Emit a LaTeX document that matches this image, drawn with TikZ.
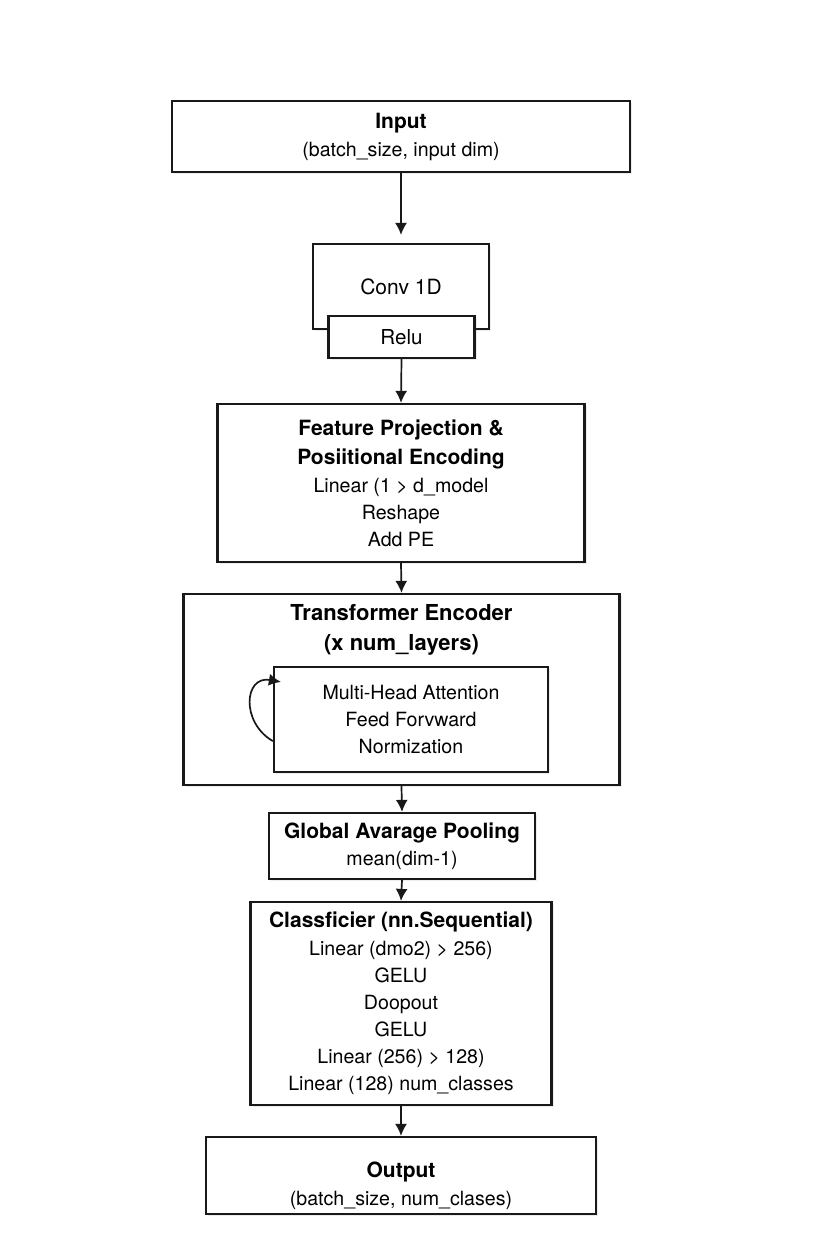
\documentclass[tikz,border=0pt]{standalone}
\usepackage{fontspec}
\setmainfont{TeX Gyre Heros}
\usetikzlibrary{arrows.meta,shadows}

\newcommand{\ttl}[1]{{\fontsize{10.5}{14}\selectfont\bfseries #1}}

\tikzset{
	box/.style={draw=black!90, line width=1.1pt, fill=white, align=center, inner sep=2pt,
		drop shadow={shadow xshift=1pt, shadow yshift=-1.2pt, opacity=0.15}},
	flow/.style={draw=black!90, line width=0.85pt, -{Latex[length=6pt,width=6pt]}},
}

\begin{document}
\begin{tikzpicture}[x=0.5pt, y=0.5pt, font=\fontsize{9.8}{13.5}\selectfont]
	    \useasboundingbox (0,0) rectangle (832,-1248);
	    % stages
	    \node[box, minimum width=229pt, minimum height=35.5pt] (input) at (401,-136.5)
		      {\ttl{Input}\\[0.5pt](batch\_size, input dim)};
	    \node[box, minimum width=88pt, minimum height=42.5pt, font=\fontsize{10.5}{13}\selectfont] (conv) at (401,-286.5) {Conv 1D};
	    \node[box, minimum width=73pt, minimum height=21pt, font=\fontsize{10.3}{13}\selectfont] (relu) at (401.5,-337) {Relu};
	    \node[box, minimum width=183.5pt, minimum height=79pt] (feat) at (401,-483)
		      {\ttl{Feature Projection \&}\\[1pt]\ttl{Posiitional Encoding}\\[0.5pt]Linear (1 > d\_model\\Reshape\\Add PE};
	    \node[box, minimum width=218pt, minimum height=95.5pt] (enc) at (401.5,-689.5) {};
	    \node[align=center, font=\fontsize{11}{15}\selectfont\bfseries] (enctitle) at (401.5,-630)
		      {Transformer Encoder\\(x num\_layers)};
	    \node[box, minimum width=137pt, minimum height=52.5pt] (layer) at (411,-719.5)
		      {Multi-Head Attention\\Feed Forvward\\Normization};
	    \node[box, minimum width=133pt, minimum height=33pt] (pool) at (402,-846)
		      {\ttl{Global Avarage Pooling}\\mean(dim-1)};
	    \node[box, minimum width=150.5pt, minimum height=101.5pt] (clf) at (401,-1003.5)
		      {\ttl{Classficier (nn.Sequential)}\\[0.5pt]Linear (dmo2) > 256)\\GELU\\Doopout\\GELU\\Linear (256) > 128)\\Linear (128) num\_classes};
	    \node[box, minimum width=195pt, minimum height=38.5pt] (output) at (401,-1175.5) {};
	    \node[align=center] (outtxt) at (401,-1186) {\ttl{Output}\\[0.5pt](batch\_size, num\_clases)};
	    % connectors
	    \draw[flow] (input.south) -- ([yshift=4pt]conv.north);
	    \draw[flow] (relu.south) -- (feat.north);
	    \draw[flow] (feat.south) -- (enc.north);
	    \draw[flow] (enc.south) -- (pool.north);
	    \draw[flow] (pool.south) -- (clf.north);
	    \draw[flow] (clf.south) -- (output.north);
	    \draw[flow] ([yshift=16pt]layer.south west) to[out=150, in=170, looseness=1.6] ([xshift=4pt,yshift=-8pt]layer.north west);
	\end{tikzpicture}
\end{document}
